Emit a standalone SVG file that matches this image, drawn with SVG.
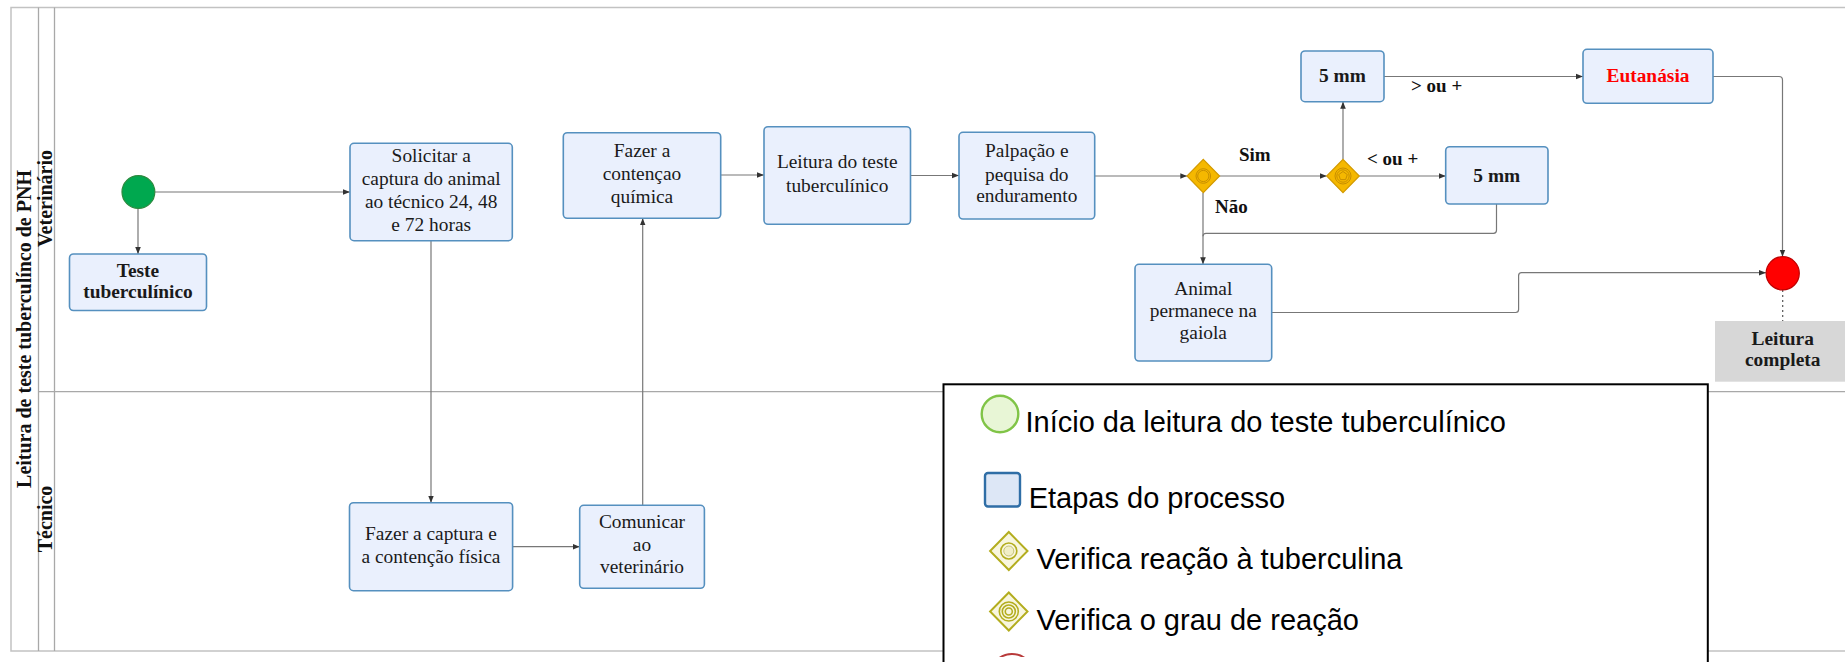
<svg xmlns="http://www.w3.org/2000/svg" width="1845" height="662" viewBox="0 0 1845 662">
  <defs>
    <style>
      .pool { fill: none; stroke: #c2c2c2; stroke-width: 1.5; }
      .lane { stroke: #a8a8a8; stroke-width: 1.3; fill: none; }
      .task { fill: #eaf0fd; stroke: #5590bf; stroke-width: 1.6; }
      .t { font-family: "Liberation Serif", "Times New Roman", serif; font-size: 19.4px; fill: #1a1a1a; text-anchor: middle; }
      .b { font-weight: bold; }
      .lbl { font-family: "Liberation Serif", "Times New Roman", serif; font-size: 19px; font-weight: bold; fill: #111; }
      .lanetxt { font-family: "Liberation Serif", "Times New Roman", serif; font-size: 20px; font-weight: bold; fill: #111; text-anchor: middle; }
      .flow { fill: none; stroke: #777; stroke-width: 1.2; }
      .gw { fill: #f5b800; stroke: #d39a00; stroke-width: 1.2; }
      .gwin { fill: none; stroke: #c88f00; stroke-width: 1; }
      .leg { font-family: "Liberation Sans", Arial, sans-serif; font-size: 29px; fill: #000; }
      .lgw { fill: #f8f6de; stroke: #b3ad1e; stroke-width: 2; }
      .lgwin { fill: none; stroke: #b3ad1e; stroke-width: 1.6; }
    </style>
    <marker id="arr" viewBox="0 0 8 8" refX="8" refY="4" markerWidth="7" markerHeight="7" orient="auto" markerUnits="userSpaceOnUse">
      <path d="M0,0.8 L8,4 L0,7.2 z" fill="#333"/>
    </marker>
    <clipPath id="legend-cut">
      <rect x="990" y="640" width="45" height="17"/>
    </clipPath>
  </defs>

  <rect width="1845" height="662" fill="#ffffff"/>

  <!-- pool and lanes -->
  <g id="pool">
    <rect class="pool" x="11" y="7.5" width="1850" height="643.5"/>
    <line class="lane" x1="38.5" y1="7.5" x2="38.5" y2="651"/>
    <line class="lane" x1="54.5" y1="7.5" x2="54.5" y2="651"/>
    <line class="lane" x1="38.5" y1="391.7" x2="1845" y2="391.7"/>
    <text class="lanetxt" transform="translate(31,329) rotate(-90)">Leitura de teste tuberculínco de PNH</text>
    <text class="lanetxt" transform="translate(52,198.5) rotate(-90)">Veterinário</text>
    <text class="lanetxt" transform="translate(52,519) rotate(-90)">Técnico</text>
  </g>

  <!-- connectors -->
  <g id="connectors">
    <path class="flow" d="M155,192 H350" marker-end="url(#arr)"/>
    <path class="flow" d="M138,208.5 V254" marker-end="url(#arr)"/>
    <path class="flow" d="M431,240.7 V502.7" marker-end="url(#arr)"/>
    <path class="flow" d="M512.6,546.7 H579.7" marker-end="url(#arr)"/>
    <path class="flow" d="M642.7,505.3 V218.3" marker-end="url(#arr)"/>
    <path class="flow" d="M720.7,175 H764" marker-end="url(#arr)"/>
    <path class="flow" d="M910.5,175.5 H959" marker-end="url(#arr)"/>
    <path class="flow" d="M1094.7,176 H1187.3" marker-end="url(#arr)"/>
    <path class="flow" d="M1219.3,176 H1326.7" marker-end="url(#arr)"/>
    <path class="flow" d="M1359.3,176 H1445.7" marker-end="url(#arr)"/>
    <path class="flow" d="M1343,159.3 V101.7" marker-end="url(#arr)"/>
    <path class="flow" d="M1384,76.5 H1583" marker-end="url(#arr)"/>
    <path class="flow" d="M1713,76.5 H1779 Q1782.5,76.5 1782.5,80 V256.7" marker-end="url(#arr)"/>
    <path class="flow" d="M1203,192.7 V264.3" marker-end="url(#arr)"/>
    <path class="flow" d="M1496.5,204 V230.3 Q1496.5,233.3 1493.5,233.3 H1206 Q1203,233.3 1203,236.3"/>
    <path class="flow" d="M1271.7,312.5 H1515.6 Q1518.6,312.5 1518.6,309.5 V275.7 Q1518.6,272.7 1521.6,272.7 H1766" marker-end="url(#arr)"/>
    <path d="M1782.7,290 V321" fill="none" stroke="#555" stroke-width="1.2" stroke-dasharray="2,3"/>
    <text class="lbl" x="1239" y="161">Sim</text>
    <text class="lbl" x="1215" y="212.5">Não</text>
    <text class="lbl" x="1367" y="165">&lt; ou +</text>
    <text class="lbl" x="1411" y="92">&gt; ou +</text>
  </g>

  <!-- start event -->
  <g id="start">
    <circle cx="138.4" cy="192" r="16.4" fill="#00a84f" stroke="#2b8a3e" stroke-width="1.2"/>
  </g>

  <g id="teste">
    <rect class="task" x="69.5" y="254" width="137" height="56.5" rx="4"/>
    <text class="t b" x="138" y="276.5" font-size="18">Teste</text>
    <text class="t b" x="138" y="298.3" font-size="18">tuberculínico</text>
  </g>

  <g id="solicitar">
    <rect class="task" x="350" y="143.3" width="162.3" height="97.4" rx="4"/>
    <text class="t" x="431.2" y="162.3">Solicitar a</text>
    <text class="t" x="431.2" y="185">captura do animal</text>
    <text class="t" x="431.2" y="207.7">ao técnico 24, 48</text>
    <text class="t" x="431.2" y="230.5">e 72 horas</text>
  </g>

  <g id="contencao-quimica">
    <rect class="task" x="563.3" y="132.7" width="157.4" height="85.6" rx="4"/>
    <text class="t" x="642" y="156.7">Fazer a</text>
    <text class="t" x="642" y="180">contençao</text>
    <text class="t" x="642" y="202.7">química</text>
  </g>

  <g id="leitura">
    <rect class="task" x="764" y="126.7" width="146.5" height="97.6" rx="4"/>
    <text class="t" x="837.2" y="168.3">Leitura do teste</text>
    <text class="t" x="837.2" y="191.5">tuberculínico</text>
  </g>

  <g id="palpacao">
    <rect class="task" x="959" y="132.3" width="135.7" height="86.7" rx="4"/>
    <text class="t" x="1026.8" y="157.3">Palpação e</text>
    <text class="t" x="1026.8" y="180.5">pequisa do</text>
    <text class="t" x="1026.8" y="202.3">enduramento</text>
  </g>

  <g id="gateway-reacao">
    <path class="gw" d="M1203.3,159.3 L1219.6,176 L1203.3,192.7 L1187,176 Z"/>
    <circle class="gwin" cx="1203.3" cy="176" r="7.3"/>
    <circle class="gwin" cx="1203.3" cy="176" r="5.6"/>
  </g>

  <g id="gateway-grau">
    <path class="gw" d="M1343,159.3 L1359.3,176 L1343,192.7 L1326.7,176 Z"/>
    <circle class="gwin" cx="1343" cy="176" r="8"/>
    <circle class="gwin" cx="1343" cy="176" r="6.2"/>
    <path class="gwin" d="M1343,171.5 L1347.3,174.6 L1345.6,179.6 L1340.4,179.6 L1338.7,174.6 Z"/>
  </g>

  <g id="mm-superior">
    <rect class="task" x="1301" y="51" width="83" height="50.7" rx="4"/>
    <text class="t b" x="1342.5" y="82">5 mm</text>
  </g>

  <g id="mm-inferior">
    <rect class="task" x="1445.7" y="146.7" width="102.3" height="57.3" rx="4"/>
    <text class="t b" x="1496.8" y="182">5 mm</text>
  </g>

  <g id="eutanasia">
    <rect class="task" x="1583" y="49.3" width="130" height="54" rx="4"/>
    <text class="t b" x="1648" y="82" style="fill:#ff0000">Eutanásia</text>
  </g>

  <g id="permanece">
    <rect class="task" x="1135" y="264.3" width="136.7" height="96.7" rx="4"/>
    <text class="t" x="1203.3" y="295">Animal</text>
    <text class="t" x="1203.3" y="316.7">permanece na</text>
    <text class="t" x="1203.3" y="339.3">gaiola</text>
  </g>

  <g id="end">
    <circle cx="1782.7" cy="273.3" r="16.6" fill="#ff0000" stroke="#c00000" stroke-width="1.2"/>
  </g>

  <g id="leitura-completa">
    <rect x="1715" y="321" width="135" height="60.7" fill="#d7d7d7"/>
    <text class="t b" x="1782.7" y="345" font-size="18">Leitura</text>
    <text class="t b" x="1782.7" y="366" font-size="18">completa</text>
  </g>

  <g id="captura">
    <rect class="task" x="349.5" y="502.7" width="163.1" height="88" rx="4"/>
    <text class="t" x="431" y="540">Fazer a captura e</text>
    <text class="t" x="431" y="562.7">a contenção física</text>
  </g>

  <g id="comunicar">
    <rect class="task" x="579.7" y="505.3" width="124.7" height="83" rx="4"/>
    <text class="t" x="642" y="528.3">Comunicar</text>
    <text class="t" x="642" y="550.5">ao</text>
    <text class="t" x="642" y="573.3">veterinário</text>
  </g>

  <!-- legend -->
  <g id="legenda">
    <rect x="943.5" y="384.3" width="764.3" height="300" fill="#ffffff" stroke="#000" stroke-width="2"/>
    <circle cx="1000" cy="414" r="18.3" fill="#e8f6d6" stroke="#80c447" stroke-width="2.4"/>
    <text class="leg" x="1025.5" y="432.3">Início da leitura do teste tuberculínico</text>
    <rect x="985" y="473" width="35" height="33.5" rx="3" fill="#dde7f6" stroke="#2f6ea6" stroke-width="2.4"/>
    <text class="leg" x="1028.7" y="508.3">Etapas do processo</text>
    <path class="lgw" d="M1008.8,532 L1027.5,551 L1008.8,570 L990.1,551 Z"/>
    <circle class="lgwin" cx="1008.8" cy="551" r="8"/>
    <circle cx="1008.8" cy="551" r="5" fill="#f1efc6" stroke="#c9c47a" stroke-width="1"/>
    <text class="leg" x="1036.5" y="569">Verifica reação à tuberculina</text>
    <path class="lgw" d="M1008.8,592.5 L1027.5,611.5 L1008.8,630.5 L990.1,611.5 Z"/>
    <circle class="lgwin" cx="1008.8" cy="611.5" r="9.5"/>
    <circle class="lgwin" cx="1008.8" cy="611.5" r="6.5"/>
    <circle class="lgwin" cx="1008.8" cy="611.5" r="3.5"/>
    <text class="leg" x="1036.5" y="630">Verifica o grau de reação</text>
    <circle cx="1012" cy="676" r="22" fill="#ffffff" stroke="#b83a3a" stroke-width="2" clip-path="url(#legend-cut)"/>
  </g>
</svg>
